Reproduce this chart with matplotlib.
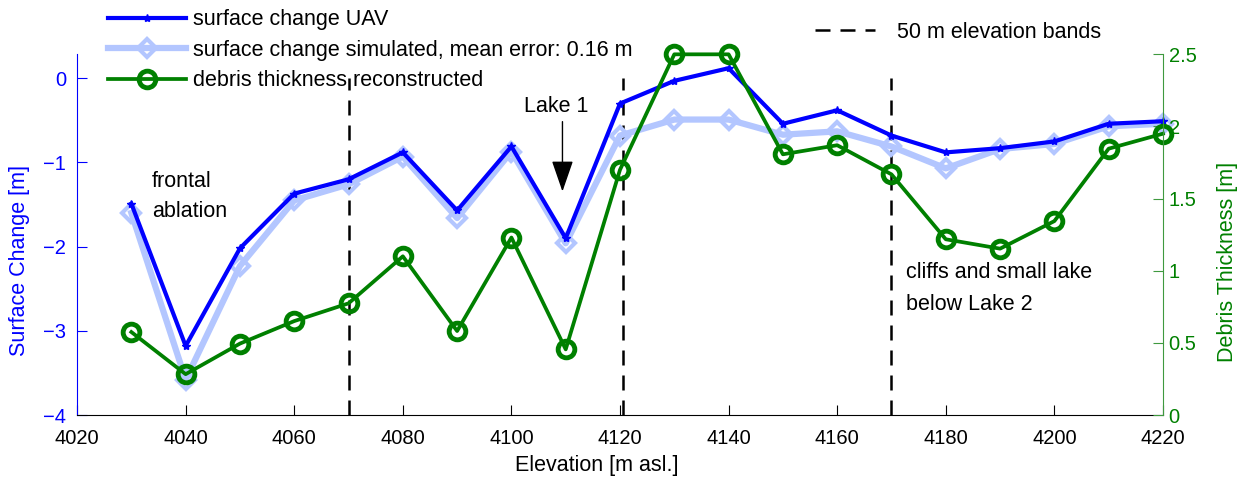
import matplotlib
matplotlib.use('Agg')
import matplotlib.pyplot as plt
from matplotlib.lines import Line2D

plt.rcParams['font.family'] = ['Liberation Sans', 'DejaVu Sans']

# elevation bands (m asl.)
elevation = [4030, 4040, 4050, 4060, 4070, 4080, 4090, 4100, 4110, 4120,
             4130, 4140, 4150, 4160, 4170, 4180, 4190, 4200, 4210, 4220]
# surface change measured by UAV [m]
dh_uav = [-1.49, -3.18, -2.02, -1.37, -1.20, -0.88, -1.57, -0.81, -1.90, -0.30,
          -0.03, 0.12, -0.54, -0.38, -0.68, -0.88, -0.83, -0.75, -0.54, -0.51]
# surface change simulated [m]
dh_sim = [-1.60, -3.58, -2.23, -1.45, -1.26, -0.93, -1.66, -0.87, -1.96, -0.68,
          -0.49, -0.49, -0.67, -0.63, -0.81, -1.07, -0.84, -0.78, -0.57, -0.54]
# reconstructed debris thickness [m]
debris = [0.575, 0.283, 0.495, 0.651, 0.774, 1.10, 0.582, 1.23, 0.455, 1.70,
          2.50, 2.50, 1.807, 1.87, 1.668, 1.218, 1.153, 1.344, 1.846, 1.95]
# 50 m elevation band limits
bands = [4070, 4120.5, 4170]

blue = (0, 0, 1)
lightblue = '#b3c6ff'
green = (0, 0.5, 0)
fs = 15.5   # text size
tfs = 14.5  # tick label size

fig = plt.figure(figsize=(12.43, 4.79), dpi=100)
ax = fig.add_axes([0.062, 0.1336, 0.8736, 0.753])
ax2 = ax.twinx()

l_sim, = ax.plot(elevation, dh_sim, '-D', color=lightblue, lw=4.5, ms=9,
                 mfc='none', mec=lightblue, mew=3, zorder=2, clip_on=False)
l_uav, = ax.plot(elevation, dh_uav, '-*', color=blue, lw=3, ms=6,
                 mec=blue, zorder=3, clip_on=False)
for b in bands:
    ax.plot([b, b], [-4, 0], '--', color='k', lw=1.8, dashes=(6, 4), zorder=1)
l_deb, = ax2.plot(elevation, debris, '-o', color=green, lw=2.7, ms=12,
                  mfc='none', mec=green, mew=3.5, clip_on=False)

ax.set_xlim(4020, 4220)
ax.set_ylim(-4, 0.285)
ax2.set_ylim(0, 2.5)
ax.set_xticks(range(4020, 4221, 20))
ax.set_yticks([-4, -3, -2, -1, 0])
ax2.set_yticks([0, 0.5, 1, 1.5, 2, 2.5])
ax2.set_yticklabels(['0', '0.5', '1', '1.5', '2', '2.5'])

for a in (ax, ax2):
    a.spines['top'].set_visible(False)
    a.tick_params(direction='in', length=7, labelsize=tfs)
ax.spines['left'].set_color(blue)
ax.spines['right'].set_visible(False)
ax2.spines['left'].set_visible(False)
ax2.spines['bottom'].set_visible(False)
ax2.spines['right'].set_color('#3f993f')
ax.tick_params(axis='y', colors=blue, pad=8)
ax2.tick_params(axis='y', colors='#3f993f', labelcolor=green, pad=4)
ax.tick_params(axis='x', pad=10)

ax.set_xlabel('Elevation [m asl.]', fontsize=fs)
ax.xaxis.set_label_coords(0.479, -0.112)
ax.set_ylabel('Surface Change [m]', fontsize=fs, color=blue)
ax.yaxis.set_label_coords(-0.0433, 0.427)
ax2.set_ylabel('Debris Thickness [m]', fontsize=fs, color=green)
ax2.yaxis.set_label_coords(1.0497, 0.423)

ax.text(4033.8, -1.23, 'frontal', fontsize=fs, va='center')
ax.text(4033.8, -1.58, 'ablation', fontsize=fs, va='center')
ax.text(4172.7, -2.31, 'cliffs and small lake', fontsize=fs, va='center')
ax.text(4172.7, -2.69, 'below Lake 2', fontsize=fs, va='center')
ax.text(4108.2, -0.337, 'Lake 1', fontsize=fs, ha='center', va='center')
ax.annotate('', xy=(4109.4, -1.345), xytext=(4109.4, -0.515),
            arrowprops=dict(arrowstyle='-|>,head_width=0.45,head_length=1.3',
                            mutation_scale=15, color='k', lw=1,
                            shrinkA=0, shrinkB=0))

leg1 = ax2.legend([l_uav, l_sim, l_deb],
                  ['surface change UAV',
                   'surface change simulated, mean error: 0.16 m',
                   'debris thickness reconstructed'],
                  loc='upper left', bbox_to_anchor=(0.0869, 0.981),
                  bbox_transform=fig.transFigure, frameon=False,
                  fontsize=fs, handlelength=3.6, handletextpad=0.37,
                  labelspacing=0.45, borderaxespad=0, borderpad=0)
ax2.add_artist(leg1)
band_handle = Line2D([], [], ls='--', color='k', lw=1.8, dashes=(6, 4))
ax2.legend([band_handle], ['50 m elevation bands'], loc='upper left',
           bbox_to_anchor=(0.6557, 0.954), bbox_transform=fig.transFigure,
           frameon=False, fontsize=fs, handlelength=2.8,
           handletextpad=1.0, borderaxespad=0, borderpad=0)

fig.savefig('out.png', dpi=100)
